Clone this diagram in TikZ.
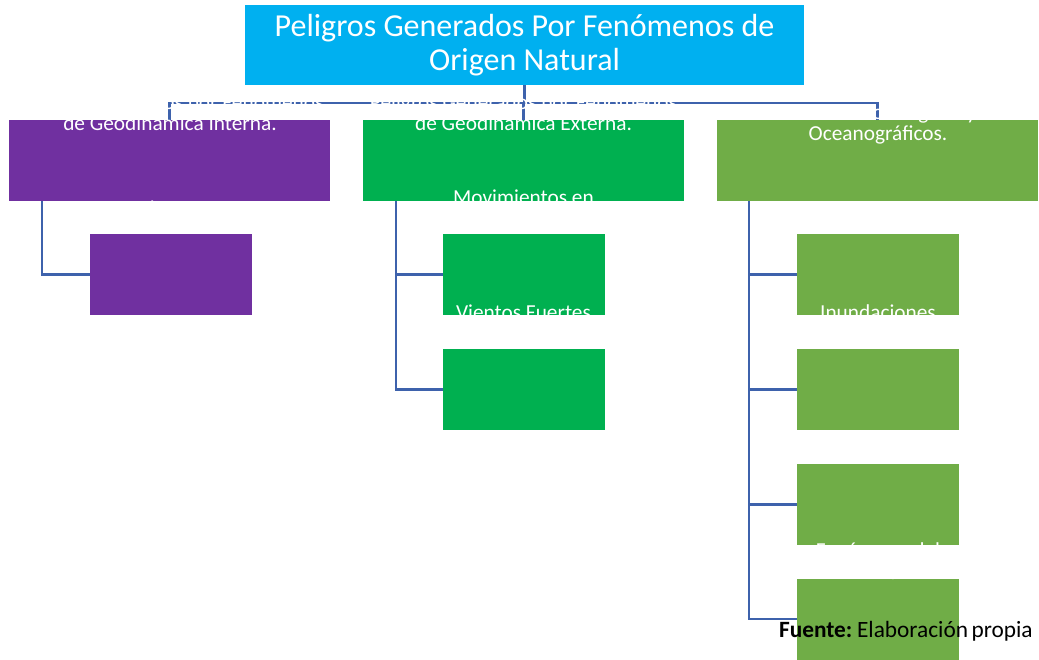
\documentclass[tikz,border=0pt]{standalone}
\usepackage{fontspec}
\setmainfont{Carlito}
\definecolor{topc}{HTML}{00B0F0}
\definecolor{purp}{HTML}{7030A0}
\definecolor{grn}{HTML}{00B050}
\definecolor{lgrn}{HTML}{70AD47}
\definecolor{conn}{RGB}{62,98,172}
\begin{document}
\begin{tikzpicture}[x=0.75pt,y=-0.75pt,
  box/.style={draw=none, inner sep=0, outer sep=0},
  topbox/.style={box, fill=topc, minimum width=419.25pt, minimum height=60pt},
  lvlone/.style={box, minimum width=240.5pt, minimum height=60.75pt},
  child/.style={box, minimum width=121.5pt, minimum height=60.75pt},
  link/.style={draw=conn, line width=1.8pt},
  wtxt/.style={text=white, font=\fontsize{16}{16}\selectfont, anchor=base, inner sep=0},
  ttxt/.style={text=white, font=\fontsize{24}{24}\selectfont, anchor=base, inner sep=0},
  src/.style={text=black, font=\fontsize{17.5}{17.5}\selectfont, anchor=base east, inner sep=0}
]
\useasboundingbox (0,0) rectangle (1039,660);
% boxes
\node[topbox] (top) at (524.5,45) {};
\node[lvlone, fill=purp] (gi) at (169.5,160.5) {};
\node[lvlone, fill=grn] (ge) at (523.5,160.5) {};
\node[lvlone, fill=lgrn] (hm) at (877.5,160.5) {};
\node[child, fill=purp] (gi1) at (171,274.5) {};
\node[child, fill=grn] (ge1) at (523.5,274.5) {};
\node[child, fill=grn] (ge2) at (523.5,389.5) {};
\node[child, fill=lgrn] (hm1) at (878,274.5) {};
\node[child, fill=lgrn] (hm2) at (878,389.5) {};
\node[child, fill=lgrn] (hm3) at (878,504.5) {};
\node[child, fill=lgrn] (hm4) at (878,619) {};
% bus coordinates
\coordinate (bus) at (524.5,103);
\coordinate (gibus) at (42,201);
\coordinate (gebus) at (396,201);
\coordinate (hmbus) at (749,201);
% connectors
\draw[link] (top.south) -- (bus);
\draw[link] (bus) -| (gi.north);
\draw[link] (bus) -| (ge.north);
\draw[link] (bus) -| (hm.north);
\draw[link] (gibus) |- (gi1.west);
\draw[link] (gebus) |- (ge1.west);
\draw[link] (gebus) |- (ge2.west);
\draw[link] (hmbus) |- (hm1.west);
\draw[link] (hmbus) |- (hm2.west);
\draw[link] (hmbus) |- (hm3.west);
\draw[link] (hmbus) |- (hm4.west);
% texts
\node[wtxt] (giA) at (170,109) {Peligros Generados por Fenómenos};
\node[wtxt] (giB) at (170,131) {de Geodinámica Interna.};
\node[wtxt] (geA) at (523.5,109) {Peligros Generados por Fenómenos};
\node[wtxt] (geB) at (523.5,131) {de Geodinámica Externa.};
\node[wtxt] (hmA) at (878,97) {Peligros Generados por Fenómenos};
\node[wtxt] (hmB) at (878,119) {Hidrometeorológicos y};
\node[wtxt] (hmC) at (878,141) {Oceanográficos.};
\node[wtxt] (gi1t) at (170,215) {Sismos};
\node[wtxt] (ge1a) at (523.5,204) {Movimientos en};
\node[wtxt] (ge1b) at (523.5,226) {masa};
\node[wtxt] (ge2t) at (523.5,319) {Vientos Fuertes};
\node[wtxt] (hm2t) at (878,319) {Inundaciones};
\node[wtxt] (hm4a) at (878,557) {Fenómeno del};
\node[wtxt] (hm4b) at (878,579) {Niño};
% title on top
\node[topbox] (topcover) at (524.5,45) {};
\node[ttxt] (titA) at (524.5,36.5) {Peligros Generados Por Fenómenos de};
\node[ttxt] (titB) at (524.5,71) {Origen Natural};
% source
\node[src] (fuente) at (1033,637) {\textbf{Fuente:}\hspace{0.2em}Elaboración\hspace{0.15em}propia};
\end{tikzpicture}
\end{document}
